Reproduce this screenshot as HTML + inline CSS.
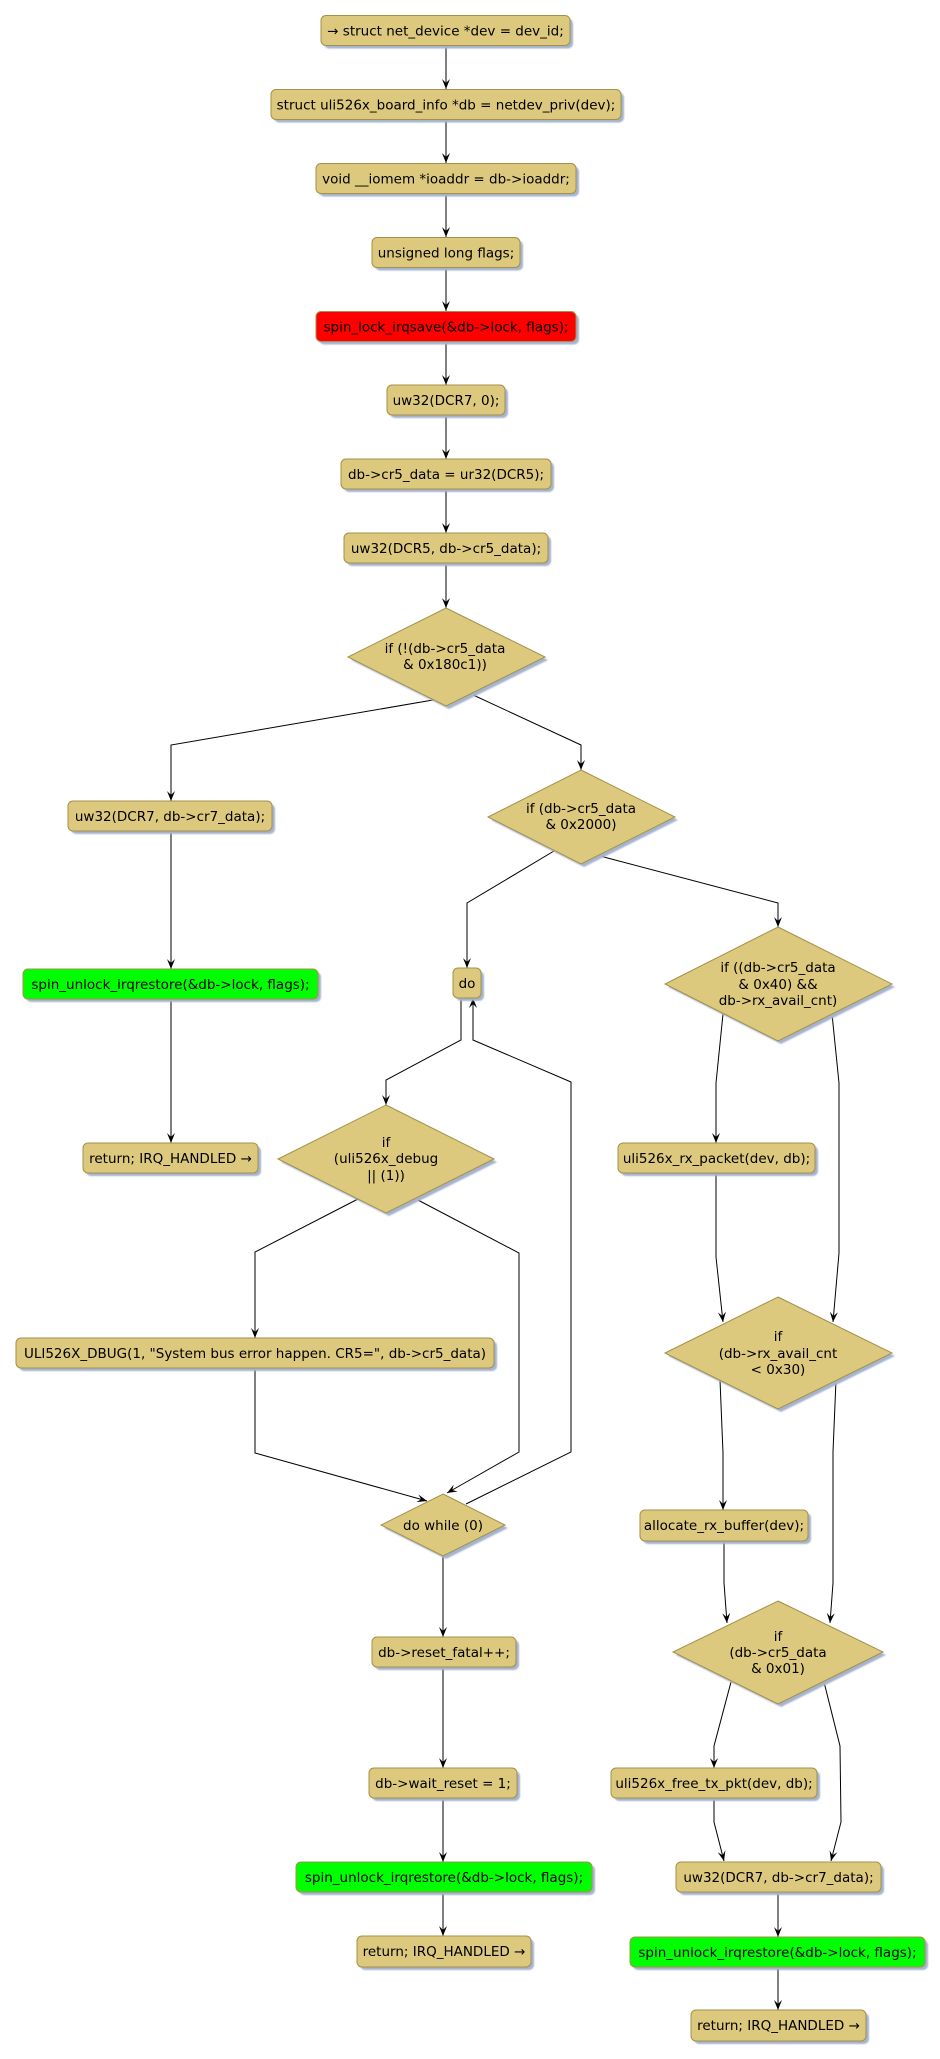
<!DOCTYPE html>
<html><head><meta charset="utf-8"><style>
html,body{margin:0;padding:0;background:#fff;}
svg{display:block;}
text{font-family:"DejaVu Sans","Liberation Sans",sans-serif;font-size:13.5px;fill:#000;}
.b{fill:#DDC97D;stroke:#A3904A;stroke-width:1;}
.r{fill:#FF0000;stroke:#A3904A;stroke-width:1;}
.g{fill:#00FF00;stroke:#A3904A;stroke-width:1;}
.s{fill:#A4B3CE;filter:url(#bl);}
.e{fill:none;stroke:#000;stroke-width:1;marker-end:url(#ah);}
</style></head><body>
<svg width="940" height="2059" viewBox="0 0 940 2059" xmlns="http://www.w3.org/2000/svg">
<defs>
<filter id="bl" x="-10%" y="-10%" width="130%" height="130%"><feGaussianBlur stdDeviation="0.8"/></filter>
<marker id="ah" viewBox="0 -5 10 10" refX="10" refY="0" markerWidth="10" markerHeight="10" markerUnits="userSpaceOnUse" orient="auto">
<path d="M0,-4 L10,0 L0,4 L4,0 Z" fill="#000"/>
</marker>
</defs>

<!-- edges -->
<g>
<polyline class="e" points="446,46 446,89"/>
<polyline class="e" points="446,120 446,163"/>
<polyline class="e" points="446,194 446,237"/>
<polyline class="e" points="446,268 446,311"/>
<polyline class="e" points="446,342 446,385"/>
<polyline class="e" points="446,415 446,459"/>
<polyline class="e" points="446,489 446,533"/>
<polyline class="e" points="446,563 446,608"/>
<polyline class="e" points="433,700 171,745 171,801"/>
<polyline class="e" points="471,694 581,745 581,770"/>
<polyline class="e" points="171,831 171,969"/>
<polyline class="e" points="171,999 171,1143"/>
<polyline class="e" points="554,851 467,903 467,968"/>
<polyline class="e" points="600,856 778,903 778,927"/>
<polyline class="e" points="461,998 461,1040 386,1080 386,1105"/>
<polyline class="e" points="466,1504 571,1452 571,1082 473,1040 473,998"/>
<polyline class="e" points="358,1199 255,1252 255,1338"/>
<polyline class="e" points="416,1199 519,1253 519,1452 447,1493"/>
<polyline class="e" points="255,1368 255,1453 427,1501"/>
<polyline class="e" points="443,1556 443,1637"/>
<polyline class="e" points="443,1667 443,1768"/>
<polyline class="e" points="443,1798 443,1862"/>
<polyline class="e" points="443,1892 443,1936"/>
<polyline class="e" points="723,1014 716,1083 716,1143"/>
<polyline class="e" points="832,1014 839,1083 839,1253 833,1322"/>
<polyline class="e" points="716,1173 716,1257 723,1322"/>
<polyline class="e" points="720,1380 723,1453 723,1510"/>
<polyline class="e" points="836,1380 833,1452 833,1583 830,1623"/>
<polyline class="e" points="724,1541 724,1583 727,1623"/>
<polyline class="e" points="731,1682 714,1746 714,1768"/>
<polyline class="e" points="824,1682 840,1746 841,1822 831,1861"/>
<polyline class="e" points="714,1798 714,1822 724,1861"/>
<polyline class="e" points="778,1892 778,1937"/>
<polyline class="e" points="778,1967 778,2010"/>
</g>

<!-- shadows -->
<g transform="translate(3,3)">
<rect class="s" x="321" y="15.5" width="249" height="30" rx="5"/>
<rect class="s" x="271" y="89.5" width="350" height="30" rx="5"/>
<rect class="s" x="316" y="163.5" width="260" height="30" rx="5"/>
<rect class="s" x="372" y="237.5" width="148" height="30" rx="5"/>
<rect class="s" x="316" y="311.5" width="260" height="30" rx="5"/>
<rect class="s" x="387" y="385" width="118" height="30" rx="5"/>
<rect class="s" x="341" y="459" width="210" height="30" rx="5"/>
<rect class="s" x="344" y="533" width="204" height="30" rx="5"/>
<rect class="s" x="68" y="801" width="204" height="30" rx="5"/>
<rect class="s" x="23" y="969" width="295" height="30" rx="5"/>
<rect class="s" x="453" y="968" width="28" height="30" rx="5"/>
<rect class="s" x="83" y="1143" width="175" height="30" rx="5"/>
<rect class="s" x="618" y="1143" width="197" height="30" rx="5"/>
<rect class="s" x="16" y="1338" width="478" height="30" rx="5"/>
<rect class="s" x="640" y="1510" width="168" height="31" rx="5"/>
<rect class="s" x="372" y="1637" width="144" height="30" rx="5"/>
<rect class="s" x="369" y="1768" width="148" height="30" rx="5"/>
<rect class="s" x="611" y="1768" width="206" height="30" rx="5"/>
<rect class="s" x="296" y="1862" width="296" height="30" rx="5"/>
<rect class="s" x="676" y="1862" width="205" height="30" rx="5"/>
<rect class="s" x="357" y="1936" width="174" height="31" rx="5"/>
<rect class="s" x="630" y="1937" width="295" height="30" rx="5"/>
<rect class="s" x="691" y="2010" width="175" height="31" rx="5"/>
<polygon class="s" points="446,608 545,657 446,706 348,657"/>
<polygon class="s" points="581,770 675,817 581,864 488,817"/>
<polygon class="s" points="778,927 892,984 778,1041 665,984"/>
<polygon class="s" points="386,1105 494,1159 386,1213 278,1159"/>
<polygon class="s" points="778,1297 892,1353 778,1409 665,1353"/>
<polygon class="s" points="443,1494 505,1525 443,1556 381,1525"/>
<polygon class="s" points="778,1601 883,1652 778,1704 673,1652"/>
</g>

<!-- boxes -->
<rect class="b" x="321" y="15.5" width="249" height="30" rx="5"/>
<rect class="b" x="271" y="89.5" width="350" height="30" rx="5"/>
<rect class="b" x="316" y="163.5" width="260" height="30" rx="5"/>
<rect class="b" x="372" y="237.5" width="148" height="30" rx="5"/>
<rect class="r" x="316" y="311.5" width="260" height="30" rx="5"/>
<rect class="b" x="387" y="385" width="118" height="30" rx="5"/>
<rect class="b" x="341" y="459" width="210" height="30" rx="5"/>
<rect class="b" x="344" y="533" width="204" height="30" rx="5"/>
<rect class="b" x="68" y="801" width="204" height="30" rx="5"/>
<rect class="g" x="23" y="969" width="295" height="30" rx="5"/>
<rect class="b" x="453" y="968" width="28" height="30" rx="5"/>
<rect class="b" x="83" y="1143" width="175" height="30" rx="5"/>
<rect class="b" x="618" y="1143" width="197" height="30" rx="5"/>
<rect class="b" x="16" y="1338" width="478" height="30" rx="5"/>
<rect class="b" x="640" y="1510" width="168" height="31" rx="5"/>
<rect class="b" x="372" y="1637" width="144" height="30" rx="5"/>
<rect class="b" x="369" y="1768" width="148" height="30" rx="5"/>
<rect class="b" x="611" y="1768" width="206" height="30" rx="5"/>
<rect class="g" x="296" y="1862" width="296" height="30" rx="5"/>
<rect class="b" x="676" y="1862" width="205" height="30" rx="5"/>
<rect class="b" x="357" y="1936" width="174" height="31" rx="5"/>
<rect class="g" x="630" y="1937" width="295" height="30" rx="5"/>
<rect class="b" x="691" y="2010" width="175" height="31" rx="5"/>

<!-- diamonds -->
<polygon class="b" points="446,608 545,657 446,706 348,657"/>
<polygon class="b" points="581,770 675,817 581,864 488,817"/>
<polygon class="b" points="778,927 892,984 778,1041 665,984"/>
<polygon class="b" points="386,1105 494,1159 386,1213 278,1159"/>
<polygon class="b" points="778,1297 892,1353 778,1409 665,1353"/>
<polygon class="b" points="443,1494 505,1525 443,1556 381,1525"/>
<polygon class="b" points="778,1601 883,1652 778,1704 673,1652"/>

<!-- texts -->
<g text-anchor="middle">
<text x="445.5" y="35.5">→ struct net_device *dev = dev_id;</text>
<text x="446" y="109.5">struct uli526x_board_info *db = netdev_priv(dev);</text>
<text x="446" y="183.5">void __iomem *ioaddr = db-&gt;ioaddr;</text>
<text x="446" y="257.5">unsigned long flags;</text>
<text x="446" y="331.5">spin_lock_irqsave(&amp;db-&gt;lock, flags);</text>
<text x="446" y="405">uw32(DCR7, 0);</text>
<text x="446" y="479">db-&gt;cr5_data = ur32(DCR5);</text>
<text x="446" y="553">uw32(DCR5, db-&gt;cr5_data);</text>
<text x="445" y="653">if (!(db-&gt;cr5_data</text>
<text x="445" y="669">&amp; 0x180c1))</text>
<text x="170" y="821">uw32(DCR7, db-&gt;cr7_data);</text>
<text x="581" y="813">if (db-&gt;cr5_data</text>
<text x="581" y="829">&amp; 0x2000)</text>
<text x="170.5" y="989">spin_unlock_irqrestore(&amp;db-&gt;lock, flags);</text>
<text x="467" y="988">do</text>
<text x="778" y="972">if ((db-&gt;cr5_data</text>
<text x="778" y="989">&amp; 0x40) &amp;&amp;</text>
<text x="778" y="1005">db-&gt;rx_avail_cnt)</text>
<text x="170.5" y="1163">return; IRQ_HANDLED →</text>
<text x="386" y="1147">if</text>
<text x="386" y="1163">(uli526x_debug</text>
<text x="386" y="1180">|| (1))</text>
<text x="716.5" y="1163">uli526x_rx_packet(dev, db);</text>
<text x="255" y="1358">ULI526X_DBUG(1, "System bus error happen. CR5=", db-&gt;cr5_data)</text>
<text x="778" y="1341">if</text>
<text x="778" y="1358">(db-&gt;rx_avail_cnt</text>
<text x="778" y="1374">&lt; 0x30)</text>
<text x="443" y="1530">do while (0)</text>
<text x="724" y="1530">allocate_rx_buffer(dev);</text>
<text x="778" y="1641">if</text>
<text x="778" y="1657">(db-&gt;cr5_data</text>
<text x="778" y="1673">&amp; 0x01)</text>
<text x="444" y="1657">db-&gt;reset_fatal++;</text>
<text x="443" y="1788">db-&gt;wait_reset = 1;</text>
<text x="714" y="1788">uli526x_free_tx_pkt(dev, db);</text>
<text x="444" y="1882">spin_unlock_irqrestore(&amp;db-&gt;lock, flags);</text>
<text x="778.5" y="1882">uw32(DCR7, db-&gt;cr7_data);</text>
<text x="444" y="1956">return; IRQ_HANDLED →</text>
<text x="777.5" y="1957">spin_unlock_irqrestore(&amp;db-&gt;lock, flags);</text>
<text x="778.5" y="2030">return; IRQ_HANDLED →</text>
</g>
</svg>
</body></html>
